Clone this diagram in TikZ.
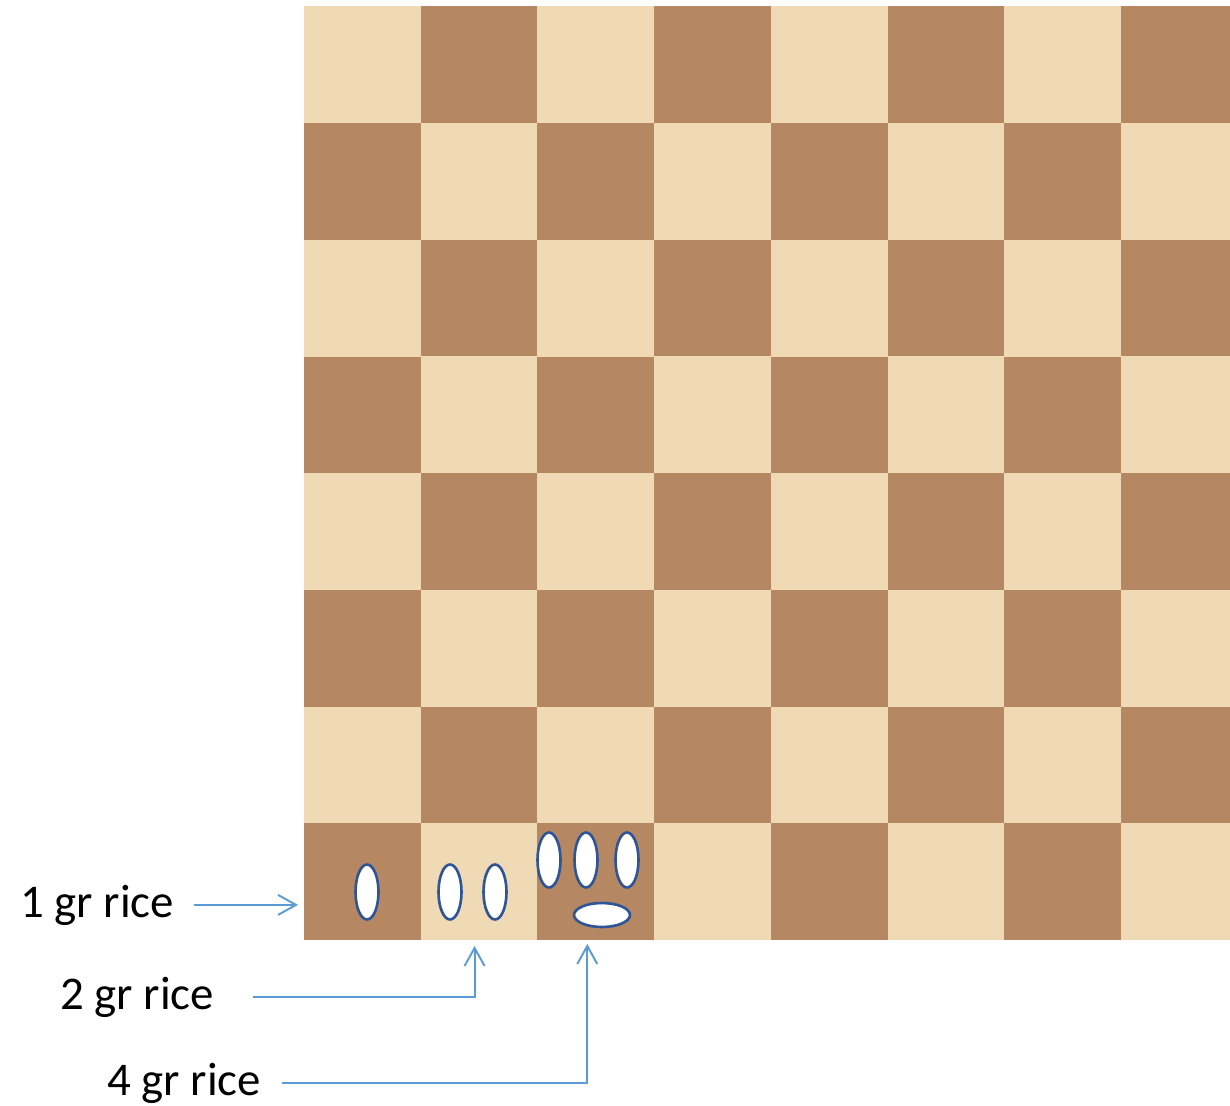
\documentclass[tikz,border=0pt]{standalone}
\usepackage{fontspec}
\setmainfont{Carlito}
\usetikzlibrary{shapes.geometric,arrows.meta}
\definecolor{lightsq}{HTML}{F0D9B5}
\definecolor{darksq}{HTML}{B58863}
\definecolor{grainline}{HTML}{2F5597}
\definecolor{arrowblue}{HTML}{5B9BD5}
\begin{document}
\begin{tikzpicture}[
    x=0.02cm, y=-0.02cm,
    square/.style={
        minimum size=2.334cm,
        inner sep=0pt,
        outer sep=0pt
    },
    grain/.style={
        ellipse,
        draw=grainline,
        line width=1.5pt,
        fill=white,
        minimum width=0.46cm,
        minimum height=1.1cm,
        inner sep=0pt
    },
    flatgrain/.style={
        grain,
        minimum width=1.12cm,
        minimum height=0.48cm
    },
    ricetext/.style={
        font=\fontsize{26.7}{32}\selectfont,
        inner sep=0pt,
        anchor=base west
    },
    arr/.style={-{Straight Barb[length=0.36cm,width=0.4cm]}, line width=1.1pt, draw=arrowblue}
]
    \useasboundingbox (0,0) rectangle (1230,1105);

    \begin{scope}
        \clip (304,0) rectangle (1230,1105);
        \fill[lightsq] (304,6.4) rectangle (1238,940);
        \foreach \c in {1,...,8}
            \foreach \r in {1,...,8} {
                \pgfmathtruncatemacro{\parity}{mod(\c+\r,2)}
                \ifnum\parity=0 \def\sqcol{darksq}\else\def\sqcol{lightsq}\fi
                \node[square, fill=\sqcol] (sq-\c-\r) at ({304+116.7*(\c-0.5)}, {940-116.7*(\r-0.5)}) {};
            }
    \end{scope}

    \node[grain] (g1) at (367,892) {};
    \node[grain] (g2a) at (450,892) {};
    \node[grain] (g2b) at (495,892) {};
    \node[grain] (g3a) at (549,860) {};
    \node[grain] (g3b) at (586,860) {};
    \node[grain] (g3c) at (627,860) {};
    \node[flatgrain] (g3d) at (602,915) {};

    \node[ricetext] (one) at (20,917) {1 gr rice};
    \node[ricetext] (two) at (60,1009) {2 gr rice};
    \node[ricetext] (four) at (107,1095) {4 gr rice};

    \draw[arr, shorten <=0.4cm, shorten >=0.12cm] (one.east) -- (one.east -| sq-1-1.west);
    \draw[arr, shorten <=0.78cm, shorten >=0.12cm] (two.east) -| ([xshift=-0.09cm]sq-2-1.south);
    \draw[arr, shorten <=0.42cm, shorten >=0.08cm] (four.east) -| ([xshift=-0.17cm]sq-3-1.south);
\end{tikzpicture}
\end{document}
